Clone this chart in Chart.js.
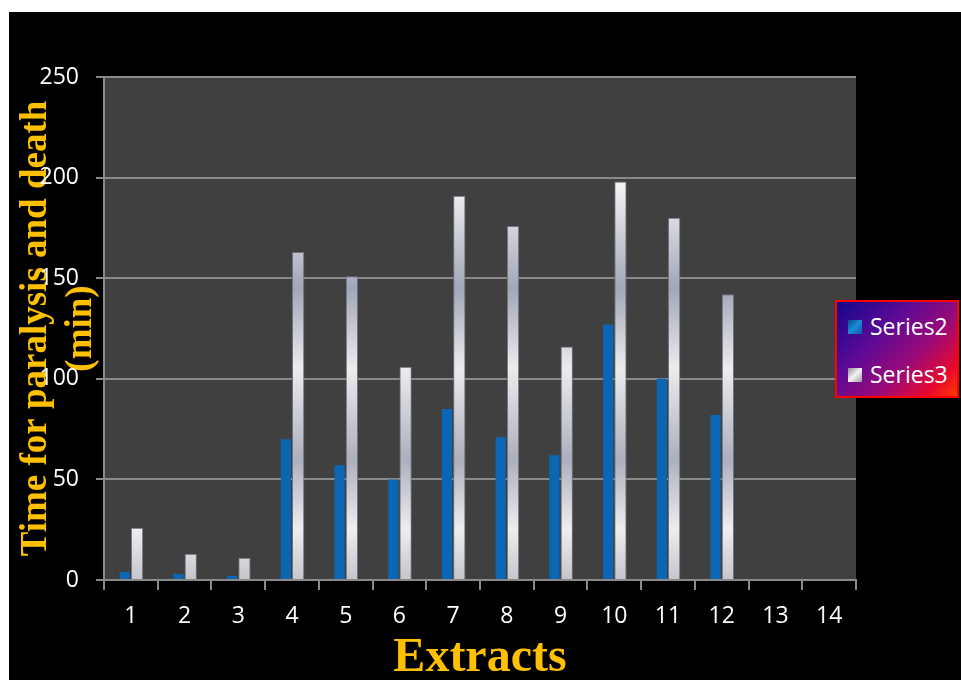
<!DOCTYPE html>
<html>
<head>
<meta charset="utf-8">
<script src="https://cdn.jsdelivr.net/npm/chart.js@4.4.1/dist/chart.umd.min.js"></script>
<style>
  body { margin: 0; background: #ffffff; width: 961px; height: 680px; overflow: hidden; position: relative; }
  #fond { position: absolute; left: 9px; top: 12px; width: 952px; height: 668px; background: #000000; }
  #graphique { position: absolute; left: 9px; top: 12px; }
  #legende {
    position: absolute; left: 835px; top: 300px; width: 120px; height: 94px;
    border: 2px solid #ff0000;
    background: linear-gradient(135deg, #14078c 0%, #5c0a96 35%, #9a0a78 62%, #e8082e 85%, #ff3a00 100%);
    font-family: "Open Sans", sans-serif; font-size: 23px; color: #ffffff;
  }
  .item { position: absolute; left: 11px; height: 28px; line-height: 28px; white-space: nowrap; }
  .icone { display: inline-block; width: 14px; height: 14px; vertical-align: middle; margin-right: 8px; margin-top: -4px; }
</style>
</head>
<body>
<div id="fond"></div>
<canvas id="graphique" width="952" height="668"></canvas>
<div id="legende"></div>
<script>
// Donnees
var extraits = ['1', '2', '3', '4', '5', '6', '7', '8', '9', '10', '11', '12', '13', '14'];
var serie2 = [4, 3, 2, 70, 57, 50, 85, 71, 62, 127, 100, 82];
var serie3 = [26, 13, 11, 163, 151, 106, 191, 176, 116, 198, 180, 142];
var nomsSeries = ['Series2', 'Series3'];
var ticksY = [0, 50, 100, 150, 200, 250];

var gris = '#8a8a8a';
var policeTicks = { family: 'Open Sans', size: 23 };

// fond gris de la zone de trace
var fondZone = {
  id: 'fondZone',
  beforeDraw: function(chart) {
    var a = chart.chartArea;
    chart.ctx.save();
    chart.ctx.fillStyle = '#404040';
    chart.ctx.fillRect(a.left, a.top, a.right - a.left, a.bottom - a.top);
    chart.ctx.restore();
  }
};

function argent(contexte) {
  var chart = contexte.chart;
  var a = chart.chartArea;
  if (!a) return '#c8c8cc';
  var g = chart.ctx.createLinearGradient(0, a.top, 0, a.bottom);
  g.addColorStop(0, '#d0d0d4');
  g.addColorStop(0.22, '#f2f2f4');
  g.addColorStop(0.42, '#a2a6b6');
  g.addColorStop(0.58, '#ececee');
  g.addColorStop(0.76, '#acafbc');
  g.addColorStop(0.9, '#eeeef0');
  g.addColorStop(1, '#c4c4ca');
  return g;
}

var graphique = new Chart(document.getElementById('graphique'), {
  type: 'bar',
  data: {
    labels: extraits,
    datasets: [{
      label: nomsSeries[0],
      data: serie2,
      backgroundColor: '#0b67b5',
      barPercentage: 0.82,
      categoryPercentage: 0.46
    }, {
      label: nomsSeries[1],
      data: serie3,
      backgroundColor: argent,
      borderColor: '#6e7080',
      borderWidth: 1,
      barPercentage: 1,
      categoryPercentage: 0.46
    }]
  },
  options: {
    responsive: false,
    animation: false,
    layout: { padding: { top: 65, right: 105, bottom: 0, left: 0 } },
    plugins: {
      legend: { display: false },
      tooltip: { enabled: false }
    },
    scales: {
      x: {
        grid: { display: true, drawOnChartArea: false, color: gris, lineWidth: 2, tickLength: 10, offset: true },
        border: { color: gris, width: 2 },
        ticks: { color: '#ffffff', font: policeTicks, padding: 13, maxRotation: 0 },
        title: {
          display: true,
          text: 'Extracts',
          color: '#FFC000',
          font: { family: 'Liberation Serif', size: 48, weight: 'bold', lineHeight: 1 },
          padding: { top: 0, bottom: -3 }
        },
        afterFit: function(s) { s.height = 100; }
      },
      y: {
        min: 0,
        max: 250,
        afterBuildTicks: function(s) { s.ticks = ticksY.map(function(v) { return { value: v }; }); },
        grid: { color: gris, lineWidth: 2, tickLength: 8 },
        border: { color: gris, width: 2 },
        ticks: { color: '#ffffff', font: policeTicks, padding: 17 },
        title: {
          display: true,
          text: ['Time for paralysis and death', '(min)'],
          color: '#FFC000',
          font: { family: 'Liberation Serif', size: 37, weight: 'bold', lineHeight: 1.22 },
          padding: { top: 5, bottom: 0 }
        },
        afterFit: function(s) { s.width = 95; }
      }
    }
  },
  plugins: [fondZone]
});

// legende a la main (fond degrade)
var icones = [
  'linear-gradient(135deg, #0a4f90 0%, #1d8ad8 50%, #0a5aa6 100%)',
  'linear-gradient(135deg, #8a8a90 0%, #f4f4f6 50%, #9a9aa2 100%)'
];
var legende = document.getElementById('legende');
graphique.data.datasets.forEach(function(ds, i) {
  var item = document.createElement('div');
  item.className = 'item';
  item.style.top = (10 + i * 48) + 'px';
  item.innerHTML = '<span class="icone" style="background:' + icones[i] + '"></span>' + ds.label;
  legende.appendChild(item);
});
</script>
</body>
</html>
